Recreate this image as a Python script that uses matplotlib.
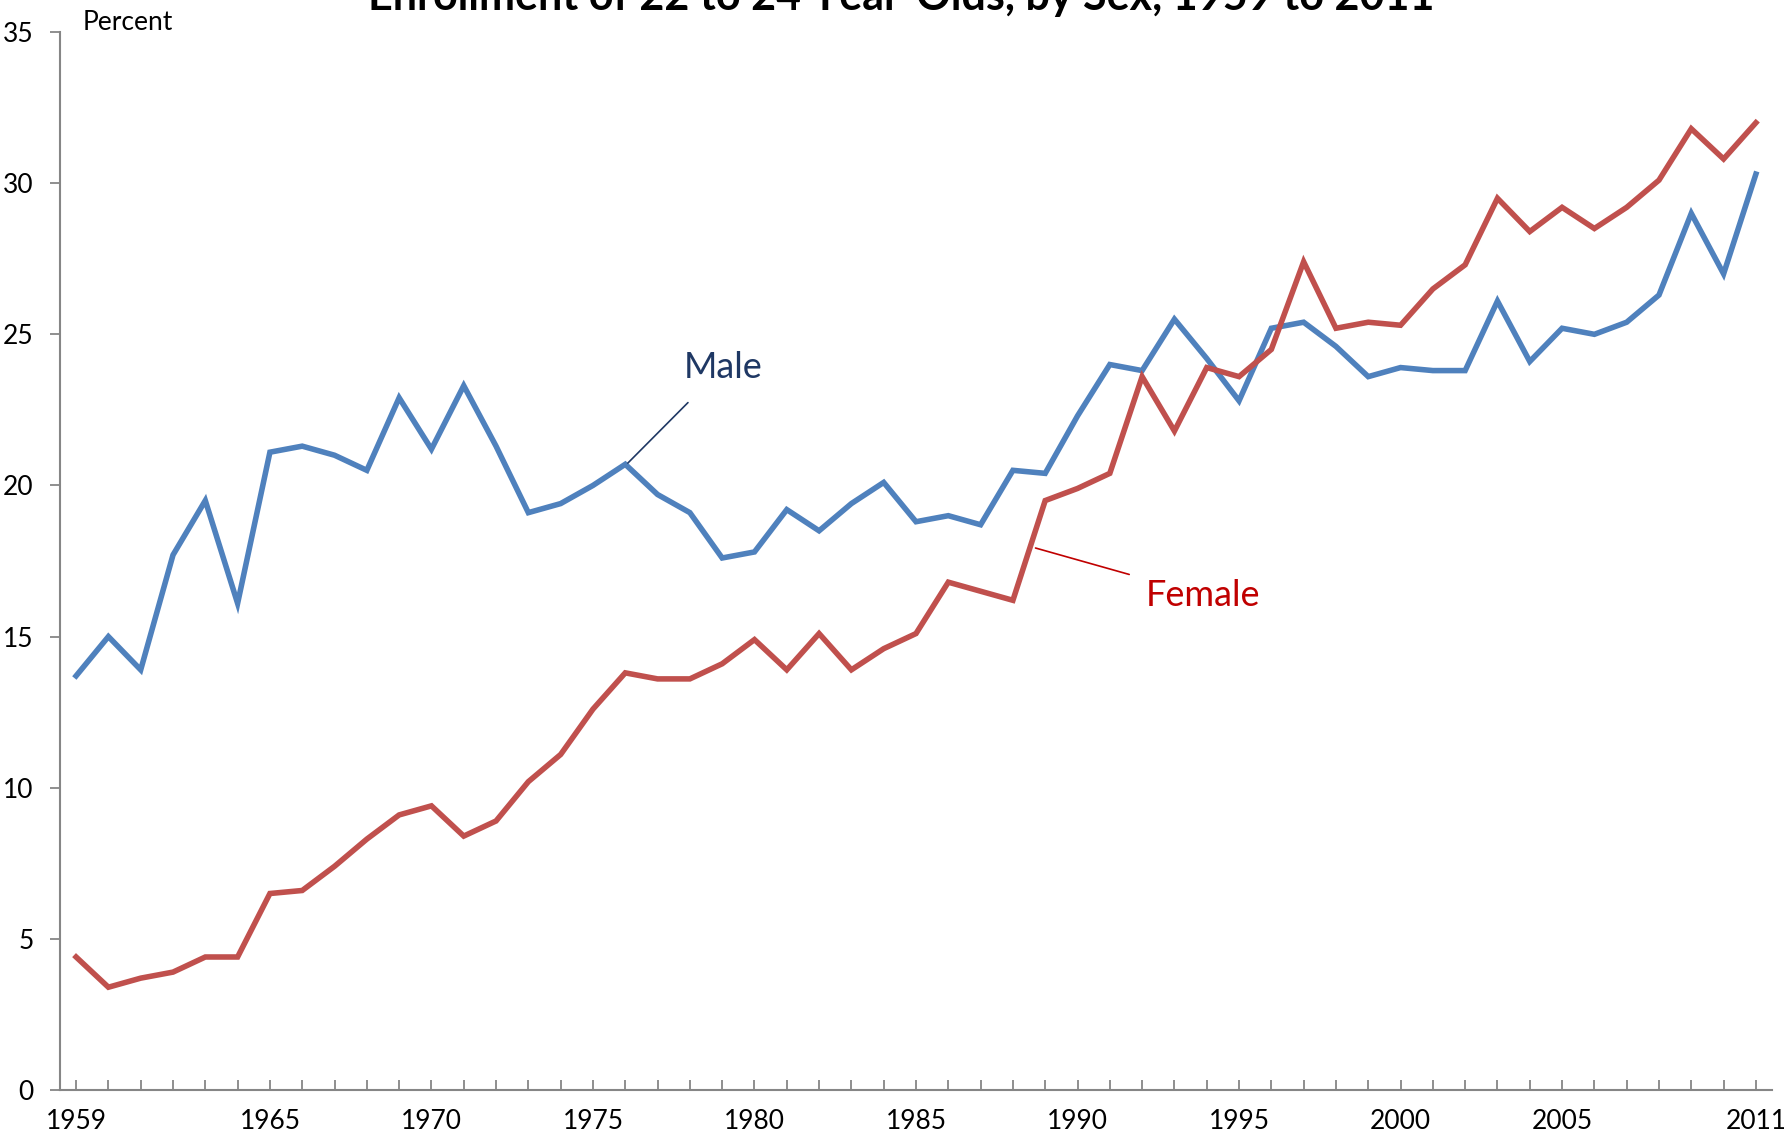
import numpy as np
import matplotlib.pyplot as plt

# enrollment of 22 to 24 year olds, percent
years = list(range(1959, 2012))
male = [13.7, 15.0, 13.9, 17.7, 19.5, 16.1, 21.1, 21.3, 21.0, 20.5,
        22.9, 21.2, 23.3, 21.3, 19.1, 19.4, 20.0, 20.7, 19.7, 19.1,
        17.6, 17.8, 19.2, 18.5, 19.4, 20.1, 18.8, 19.0, 18.7, 20.5,
        20.4, 22.3, 24.0, 23.8, 25.5, 24.2, 22.8, 25.2, 25.4, 24.6,
        23.6, 23.9, 23.8, 23.8, 26.1, 24.1, 25.2, 25.0, 25.4, 26.3,
        29.0, 27.0, 30.3]
female = [4.4, 3.4, 3.7, 3.9, 4.4, 4.4, 6.5, 6.6, 7.4, 8.3,
          9.1, 9.4, 8.4, 8.9, 10.2, 11.1, 12.6, 13.8, 13.6, 13.6,
          14.1, 14.9, 13.9, 15.1, 13.9, 14.6, 15.1, 16.8, 16.5, 16.2,
          19.5, 19.9, 20.4, 23.6, 21.8, 23.9, 23.6, 24.5, 27.4, 25.2,
          25.4, 25.3, 26.5, 27.3, 29.5, 28.4, 29.2, 28.5, 29.2, 30.1,
          31.8, 30.8, 32.0]
tick_years = [1959, 1965, 1970, 1975, 1980, 1985, 1990, 1995, 2000, 2005, 2011]
y_ticks = [0, 5, 10, 15, 20, 25, 30, 35]

plt.rcParams['font.family'] = ['Lato', 'DejaVu Sans']
axis_gray = '#868686'

fig = plt.figure(figsize=(17.84, 11.36), dpi=100)
ax = fig.add_axes([0.0336, 0.0405, 0.9597, 0.9313])

ax.plot(years, male, color='#4F81BD', lw=4, solid_joinstyle='miter')
ax.plot(years, female, color='#C0504D', lw=4, solid_joinstyle='miter')

ax.set_xlim(1958.5, 2011.5)
ax.set_ylim(0, 35)

ax.set_yticks(y_ticks)
ax.set_yticklabels([str(v) for v in y_ticks])
ax.set_xticks(tick_years)
ax.set_xticklabels([str(v) for v in tick_years])
ax.set_xticks(years, minor=True)

for s in ['top', 'right']:
    ax.spines[s].set_visible(False)
for s in ['left', 'bottom']:
    ax.spines[s].set_color(axis_gray)
    ax.spines[s].set_linewidth(1.5)

ax.tick_params(axis='y', direction='out', length=7, width=1.3, color=axis_gray,
               labelsize=19, pad=12)
ax.tick_params(axis='x', which='both', direction='in', length=7, width=1.3,
               color=axis_gray, labelsize=19, pad=14)

ax.text(1959.2, 35.3, 'Percent', fontsize=19, va='center', ha='left')

# series labels with leader lines
ax.annotate('Male', xy=(1976.08, 20.74), xytext=(1977.8, 23.9),
            fontsize=26, color='#1F3864', va='center', ha='left',
            arrowprops=dict(arrowstyle='-', color='#1F3864', lw=1.2,
                            shrinkA=16, shrinkB=0))
ax.annotate('Female', xy=(1988.7, 17.93), xytext=(1992.1, 16.37),
            fontsize=26, color='#C00000', va='center', ha='left',
            arrowprops=dict(arrowstyle='-', color='#C00000', lw=1.2,
                            shrinkA=10, shrinkB=0))

# the title sits mostly above the top edge, as in the source
fig.text(0.505, 1 - 10 / 1136, 'Enrollment of 22 to 24 Year-Olds, by Sex, 1959 to 2011',
         fontsize=31, fontweight='bold', ha='center', va='baseline')

fig.savefig('out.png', dpi=100)
